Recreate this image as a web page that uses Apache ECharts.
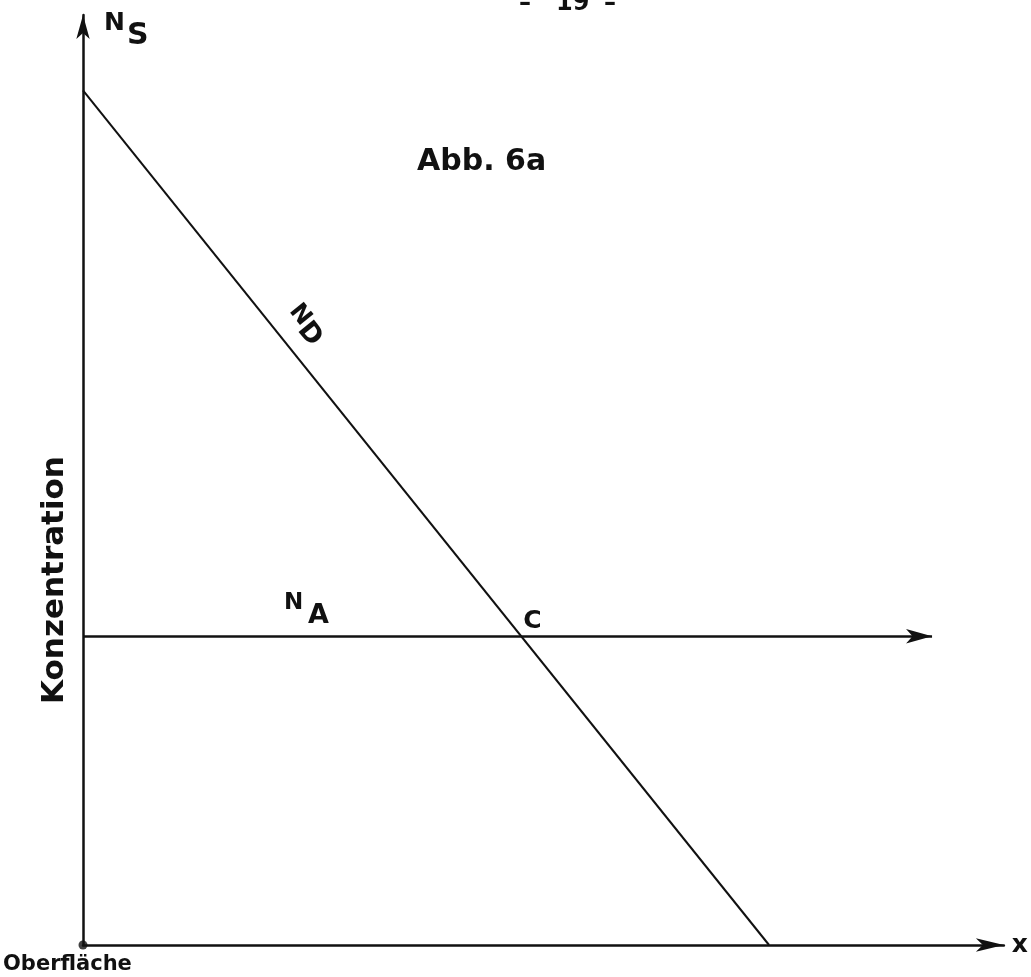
<!DOCTYPE html>
<html><head><meta charset="utf-8">
<script src="https://cdn.jsdelivr.net/npm/echarts@6/dist/echarts.min.js"></script>
<style>html,body{margin:0;padding:0;background:#fff}#c{width:1031px;height:977px}</style>
</head><body><div id="c"></div>
<script>
// Schematic values (relative units 0..100)
const xRange = [0, 100];
const yRange = [0, 100];
const surfaceConc = [91.9];      // N_S at x = 0
const ndEndDepth = [74.5];       // N_D reaches 0 here
const naLevel = [33.2];          // N_A constant level
const naArrowEnd = [92.2];       // end of N_A arrow
const pageNumber = '19';
const figLabel = 'Abb. 6a';
const yAxisName = 'Konzentration';
const originName = 'Oberfläche';

const ndData = [[0, surfaceConc[0]], [ndEndDepth[0], 0]];
const cX = ndEndDepth[0] * (1 - naLevel[0] / surfaceConc[0]);

const FONT = 'DejaVu Sans';
const chart = echarts.init(document.getElementById('c'), null, {renderer: 'canvas'});
const ink = '#111';
const f = (s, w) => (w || 'bold') + ' ' + s + 'px "DejaVu Sans"';

chart.setOption({
  backgroundColor: '#fff',
  animation: false,
  grid: {left: 83, right: 26, top: 15, bottom: 32},
  xAxis: {
    type: 'value', min: xRange[0], max: xRange[1],
    axisLine: {show: true, lineStyle: {color: ink, width: 2.5}, symbol: ['none', 'arrow'], symbolSize: [10, 28]},
    axisTick: {show: false}, axisLabel: {show: false}, splitLine: {show: false},
    name: 'x', nameLocation: 'end', nameGap: 8,
    nameTextStyle: {fontFamily: FONT, fontWeight: 'bold', fontSize: 25, color: ink, verticalAlign: 'middle', padding: [0, 0, 4, 0]}
  },
  yAxis: {
    type: 'value', min: yRange[0], max: yRange[1],
    axisLine: {show: true, lineStyle: {color: ink, width: 2.5}, symbol: ['none', 'arrow'], symbolSize: [10, 24]},
    axisTick: {show: false}, axisLabel: {show: false}, splitLine: {show: false}
  },
  series: [
    {
      type: 'line', name: 'N_D', data: ndData, showSymbol: false,
      lineStyle: {color: ink, width: 2},
      markPoint: {
        symbol: 'circle', symbolSize: 0,
        data: [{coord: [cX, naLevel[0]], value: 'C'}],
        label: {show: true, formatter: 'C', position: [2, -27], fontFamily: FONT, fontWeight: 'bold', fontSize: 25, color: ink}
      }
    },
    {
      type: 'line', name: 'N_A', data: [], showSymbol: false,
      markLine: {
        silent: true, symbol: ['none', 'arrow'], symbolSize: [11, 26],
        lineStyle: {color: ink, width: 2.5, type: 'solid'},
        label: {show: false},
        data: [[{coord: [0, naLevel[0]]}, {coord: [naArrowEnd[0], naLevel[0]]}]]
      }
    },
    {
      type: 'scatter', name: 'origin', data: [[0, 0]], symbol: 'circle', symbolSize: 9,
      itemStyle: {color: ink}, z: 5
    }
  ],
  graphic: [
    {type: 'text', left: 519, top: -8, style: {text: '–', font: f(24), fill: ink}},
    {type: 'text', left: 556, top: -8, style: {text: pageNumber, font: f(24), fill: ink}},
    {type: 'text', left: 604, top: -8, style: {text: '–', font: f(24), fill: ink}},
    {type: 'text', left: 104, top: 11, style: {text: 'N', font: f(25), fill: ink}},
    {type: 'text', left: 127, top: 21, style: {text: 'S', font: f(30), fill: ink}},
    {type: 'text', left: 417, top: 147, style: {text: figLabel, font: f(30), fill: ink}},
    {type: 'text', left: 284, top: 592, style: {text: 'N', font: f(23), fill: ink}},
    {type: 'text', left: 308, top: 602, style: {text: 'A', font: f(27), fill: ink}},
    {type: 'group', x: 292, y: 334, rotation: -51.2 * Math.PI / 180, children: [
      {type: 'text', x: -20, y: -30, style: {text: 'N', font: f(24), fill: ink}},
      {type: 'text', x: 0, y: -27, style: {text: 'D', font: f(27), fill: ink}}
    ]},
    {type: 'text', x: 55, y: 580, rotation: Math.PI / 2,
      style: {text: yAxisName, font: f(31), fill: ink, align: 'center', verticalAlign: 'middle'}},
    {type: 'text', left: 3, top: 954, style: {text: originName, font: f(21), fill: ink}}
  ]
});
</script></body></html>
